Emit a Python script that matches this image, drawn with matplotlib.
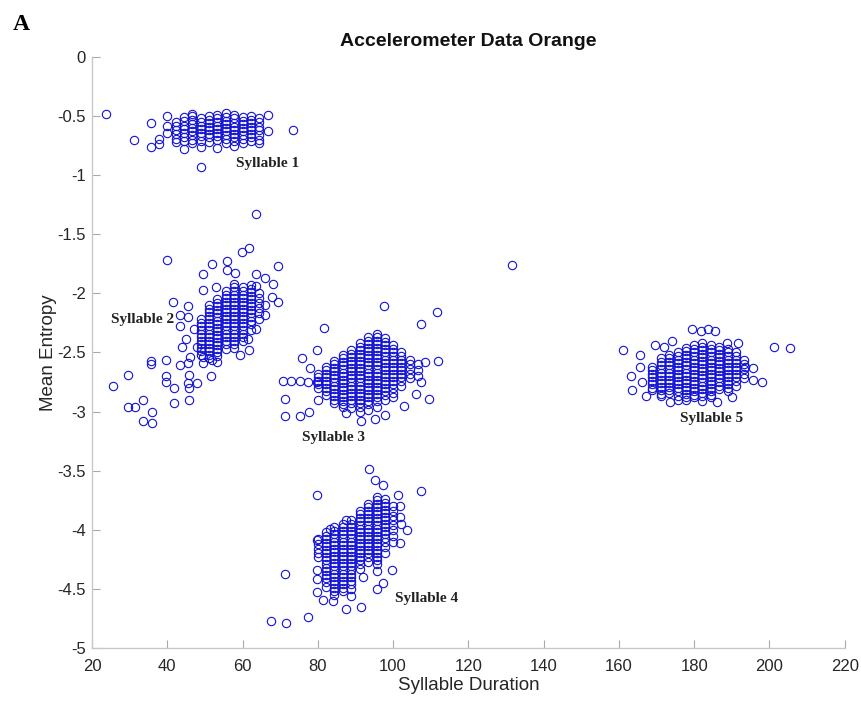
import numpy as np
import matplotlib.pyplot as plt

# Durations come in steps of ~2.22 ms, so the dense part of each cluster
# sits in vertical stacks: one x per column, entropies listed per column.

# Syllable 1
s1_cols = [42.2, 44.4, 46.7, 48.9, 51.1, 53.3, 55.6, 57.8, 60.0, 62.2, 64.4]
s1_stacks = [
    [-0.55, -0.58, -0.62, -0.65, -0.69],
    [-0.51, -0.54, -0.58, -0.61, -0.64, -0.68, -0.71],
    [-0.50, -0.53, -0.57, -0.60, -0.63, -0.66, -0.70, -0.73],
    [-0.52, -0.55, -0.58, -0.61, -0.64, -0.67, -0.71],
    [-0.50, -0.53, -0.56, -0.59, -0.62, -0.65, -0.68, -0.72],
    [-0.49, -0.52, -0.55, -0.58, -0.61, -0.64, -0.67, -0.70],
    [-0.51, -0.54, -0.57, -0.60, -0.63, -0.66, -0.69, -0.73],
    [-0.49, -0.52, -0.56, -0.59, -0.62, -0.65, -0.68, -0.71],
    [-0.51, -0.54, -0.57, -0.60, -0.63, -0.66, -0.69],
    [-0.50, -0.53, -0.56, -0.59, -0.62, -0.65, -0.68, -0.71],
    [-0.52, -0.55, -0.59, -0.62, -0.66, -0.70],
]
s1_out_dur = [23.7, 31.1, 35.6, 35.6, 37.8, 37.8, 40.0, 40.0, 40.0, 44.4, 48.9,
              48.9, 53.3, 57.8, 64.4, 66.7, 66.7, 73.3, 42.2, 46.7, 55.6, 60.0]
s1_out_ent = [-0.48, -0.70, -0.76, -0.56, -0.69, -0.74, -0.50, -0.58, -0.64, -0.78, -0.76,
              -0.93, -0.77, -0.75, -0.73, -0.49, -0.63, -0.62, -0.72, -0.48, -0.47, -0.73]

# Syllable 2
s2_cols = [48.9, 51.1, 53.3, 55.6, 57.8, 60.0, 62.2, 64.4]
s2_stacks = [
    [-2.22, -2.25, -2.28, -2.31, -2.34, -2.37, -2.40, -2.43, -2.46, -2.49, -2.52],
    [-2.10, -2.13, -2.16, -2.19, -2.22, -2.25, -2.28, -2.31, -2.34, -2.37, -2.40, -2.43,
     -2.46, -2.49, -2.52, -2.55],
    [-2.05, -2.08, -2.11, -2.14, -2.17, -2.20, -2.23, -2.26, -2.29, -2.32, -2.35, -2.38,
     -2.41, -2.44, -2.47, -2.50, -2.53],
    [-1.98, -2.01, -2.04, -2.07, -2.10, -2.13, -2.16, -2.19, -2.22, -2.25, -2.28, -2.31,
     -2.34, -2.37, -2.40, -2.43, -2.47],
    [-1.92, -1.95, -1.98, -2.01, -2.04, -2.07, -2.10, -2.13, -2.16, -2.19, -2.22, -2.25,
     -2.28, -2.31, -2.34, -2.37, -2.40, -2.43, -2.46],
    [-1.95, -1.98, -2.01, -2.04, -2.07, -2.10, -2.13, -2.16, -2.19, -2.22, -2.25, -2.28,
     -2.31, -2.34, -2.37, -2.40],
    [-1.93, -1.96, -1.99, -2.02, -2.05, -2.08, -2.11, -2.14, -2.17, -2.20, -2.23, -2.26, -2.31],
    [-2.00, -2.04, -2.08, -2.12, -2.17, -2.22],
]
s2_out_dur = [63.7, 39.8, 59.8, 61.8, 69.4, 49.4, 51.8, 55.8, 55.8, 58.0, 63.7, 65.9,
              68.2, 67.7, 69.5, 41.6, 49.4, 45.6, 45.6, 43.4, 43.4, 45.0, 43.8, 46.0,
              45.6, 43.4, 45.8, 49.6, 49.4, 51.8, 51.5, 59.3, 61.8, 61.5, 63.7, 63.7,
              65.9, 65.9, 25.7, 29.6, 29.6, 31.4, 33.6, 35.9, 33.6, 35.9, 35.7, 35.7,
              39.6, 39.6, 39.6, 41.8, 41.8, 45.8, 45.6, 45.8, 47.8, 47.8, 47.0, 53.0, 53.3]
s2_out_ent = [-1.33, -1.72, -1.65, -1.62, -1.77, -1.84, -1.75, -1.73, -1.80, -1.83, -1.84, -1.87,
              -1.92, -2.03, -2.07, -2.07, -1.97, -2.11, -2.20, -2.18, -2.28, -2.39, -2.45, -2.54,
              -2.59, -2.61, -2.69, -2.54, -2.59, -2.56, -2.70, -2.52, -2.48, -2.39, -2.30, -1.94,
              -2.10, -2.18, -2.78, -2.69, -2.96, -2.96, -2.90, -3.00, -3.08, -3.10, -2.57, -2.60,
              -2.56, -2.70, -2.75, -2.80, -2.93, -2.90, -2.76, -2.80, -2.76, -2.45, -2.30, -1.95, -2.58]

# Syllable 3
s3_cols = [80.0, 82.2, 84.4, 86.7, 88.9, 91.1, 93.3, 95.6, 97.8, 100.0, 102.2, 104.4, 106.7]
s3_stacks = [
    [-2.68, -2.71, -2.74, -2.77, -2.80],
    [-2.62, -2.65, -2.68, -2.71, -2.74, -2.77, -2.80, -2.83, -2.86],
    [-2.57, -2.60, -2.63, -2.66, -2.69, -2.72, -2.75, -2.78, -2.81, -2.84, -2.87, -2.90, -2.93],
    [-2.52, -2.55, -2.58, -2.61, -2.64, -2.67, -2.70, -2.73, -2.76, -2.79, -2.82, -2.85,
     -2.88, -2.91, -2.94, -2.96],
    [-2.48, -2.51, -2.54, -2.57, -2.60, -2.63, -2.66, -2.69, -2.72, -2.75, -2.78, -2.81,
     -2.84, -2.87, -2.90, -2.93, -2.97],
    [-2.42, -2.45, -2.48, -2.51, -2.54, -2.57, -2.60, -2.63, -2.66, -2.69, -2.72, -2.75,
     -2.78, -2.81, -2.84, -2.87, -2.90, -2.93, -2.96, -3.00],
    [-2.37, -2.40, -2.43, -2.46, -2.49, -2.52, -2.55, -2.58, -2.61, -2.64, -2.67, -2.70,
     -2.73, -2.76, -2.79, -2.82, -2.85, -2.88, -2.91, -2.94, -2.99],
    [-2.34, -2.37, -2.40, -2.43, -2.46, -2.49, -2.52, -2.55, -2.58, -2.61, -2.64, -2.67,
     -2.70, -2.73, -2.76, -2.79, -2.82, -2.85, -2.88, -2.91, -2.96],
    [-2.38, -2.41, -2.44, -2.47, -2.50, -2.53, -2.56, -2.59, -2.62, -2.65, -2.68, -2.71,
     -2.74, -2.77, -2.80, -2.83, -2.86, -2.90],
    [-2.44, -2.47, -2.50, -2.53, -2.56, -2.59, -2.62, -2.65, -2.68, -2.71, -2.74, -2.77,
     -2.80, -2.84, -2.88],
    [-2.50, -2.53, -2.56, -2.59, -2.62, -2.65, -2.68, -2.71, -2.74, -2.78],
    [-2.56, -2.60, -2.64, -2.68, -2.72],
    [-2.60, -2.65, -2.70],
]
s3_out_dur = [97.6, 111.7, 107.5, 81.6, 79.7, 75.7, 70.8, 73.0, 75.2, 77.4, 79.7, 71.3, 71.3,
              75.4, 77.6, 87.6, 91.6, 95.2, 97.8, 109.6, 111.8, 108.5, 107.5, 106.0, 78.0,
              80.0, 103.0, 131.5]
s3_out_ent = [-2.11, -2.16, -2.26, -2.29, -2.48, -2.55, -2.74, -2.74, -2.74, -2.75, -2.75, -2.89,
              -3.04, -3.04, -3.00, -3.01, -3.08, -3.06, -3.03, -2.89, -2.57, -2.58, -2.75, -2.85,
              -2.63, -2.90, -2.95, -1.76]

# Syllable 4
s4_cols = [80.0, 82.2, 84.4, 86.7, 88.9, 91.1, 93.3, 95.6, 97.8, 100.0]
s4_stacks = [
    [-4.08, -4.12, -4.16, -4.20, -4.23],
    [-4.02, -4.05, -4.08, -4.11, -4.14, -4.17, -4.20, -4.23, -4.26, -4.29, -4.32, -4.35,
     -4.38, -4.41, -4.44, -4.48],
    [-3.98, -4.01, -4.04, -4.07, -4.10, -4.13, -4.16, -4.19, -4.22, -4.25, -4.28, -4.31,
     -4.34, -4.37, -4.40, -4.43, -4.46, -4.49, -4.52, -4.55],
    [-3.95, -3.98, -4.01, -4.04, -4.07, -4.10, -4.13, -4.16, -4.19, -4.22, -4.25, -4.28,
     -4.31, -4.34, -4.37, -4.40, -4.43, -4.46, -4.49, -4.52],
    [-3.92, -3.95, -3.98, -4.01, -4.04, -4.07, -4.10, -4.13, -4.16, -4.19, -4.22, -4.25,
     -4.28, -4.31, -4.34, -4.37, -4.40, -4.43, -4.46, -4.50, -4.56],
    [-3.84, -3.87, -3.90, -3.93, -3.96, -3.99, -4.02, -4.05, -4.08, -4.11, -4.14, -4.17,
     -4.20, -4.23, -4.26, -4.29, -4.33],
    [-3.78, -3.81, -3.84, -3.87, -3.90, -3.93, -3.96, -3.99, -4.02, -4.05, -4.08, -4.11,
     -4.14, -4.17, -4.20, -4.23, -4.27],
    [-3.72, -3.75, -3.78, -3.81, -3.84, -3.87, -3.90, -3.93, -3.96, -3.99, -4.02, -4.05,
     -4.08, -4.11, -4.14, -4.17, -4.20, -4.23, -4.26, -4.29, -4.35],
    [-3.74, -3.77, -3.80, -3.83, -3.86, -3.89, -3.92, -3.95, -3.98, -4.01, -4.04, -4.07,
     -4.10, -4.15, -4.20],
    [-3.80, -3.84, -3.88, -3.92, -3.96, -4.00, -4.05, -4.10],
]
s4_out_dur = [93.7, 95.2, 97.4, 107.4, 79.7, 101.4, 71.3, 67.5, 71.5, 77.5, 87.6, 91.6, 79.7,
              79.7, 79.7, 79.7, 81.4, 99.6, 97.4, 95.6, 103.6, 101.8, 101.8, 101.8, 87.6, 83.2,
              102.0, 84.0, 92.0]
s4_out_ent = [-3.49, -3.58, -3.62, -3.67, -3.71, -3.71, -4.37, -4.77, -4.79, -4.74, -4.67, -4.65,
              -4.09, -4.34, -4.42, -4.53, -4.59, -4.34, -4.45, -4.50, -4.00, -4.11, -3.80, -3.89,
              -3.92, -3.99, -3.95, -4.60, -4.40]

# Syllable 5
s5_cols = [168.9, 171.1, 173.3, 175.6, 177.8, 180.0, 182.2, 184.4, 186.7, 188.9, 191.1, 193.3]
s5_stacks = [
    [-2.62, -2.65, -2.68, -2.71, -2.74, -2.77, -2.80, -2.82],
    [-2.55, -2.58, -2.61, -2.64, -2.67, -2.70, -2.73, -2.76, -2.79, -2.82, -2.85, -2.87],
    [-2.52, -2.55, -2.58, -2.61, -2.64, -2.67, -2.70, -2.73, -2.76, -2.79, -2.82, -2.84],
    [-2.50, -2.53, -2.56, -2.59, -2.62, -2.65, -2.68, -2.71, -2.74, -2.77, -2.80, -2.83, -2.87],
    [-2.46, -2.49, -2.52, -2.55, -2.58, -2.61, -2.64, -2.67, -2.70, -2.73, -2.76, -2.79,
     -2.82, -2.85, -2.88, -2.90],
    [-2.44, -2.47, -2.50, -2.53, -2.56, -2.59, -2.62, -2.65, -2.68, -2.71, -2.74, -2.77,
     -2.80, -2.83, -2.86, -2.88],
    [-2.42, -2.45, -2.48, -2.51, -2.54, -2.57, -2.60, -2.63, -2.66, -2.69, -2.72, -2.75,
     -2.78, -2.81, -2.84, -2.87, -2.91],
    [-2.44, -2.47, -2.50, -2.53, -2.56, -2.59, -2.62, -2.65, -2.68, -2.71, -2.74, -2.77,
     -2.80, -2.83, -2.86, -2.88],
    [-2.45, -2.48, -2.51, -2.54, -2.57, -2.60, -2.63, -2.66, -2.69, -2.72, -2.75, -2.78, -2.81],
    [-2.47, -2.50, -2.53, -2.56, -2.59, -2.62, -2.65, -2.68, -2.71, -2.74, -2.77, -2.80, -2.83],
    [-2.50, -2.53, -2.56, -2.59, -2.62, -2.65, -2.68, -2.71, -2.74, -2.78],
    [-2.56, -2.60, -2.64, -2.68, -2.72],
]
s5_out_dur = [161.1, 165.5, 169.5, 201.1, 205.4, 179.3, 181.9, 183.7, 185.5, 163.3, 163.6, 167.3,
              173.5, 175.7, 165.5, 166.0, 191.6, 188.6, 195.6, 195.6, 193.4, 174.0, 172.0, 190.0,
              186.0, 198.0]
s5_out_ent = [-2.48, -2.52, -2.44, -2.45, -2.46, -2.30, -2.32, -2.30, -2.32, -2.70, -2.82, -2.87,
              -2.92, -2.90, -2.62, -2.75, -2.42, -2.42, -2.73, -2.63, -2.62, -2.40, -2.45, -2.88,
              -2.92, -2.75]

labels = ['Syllable 1', 'Syllable 2', 'Syllable 3', 'Syllable 4', 'Syllable 5']
label_pos = [(58.2, -0.90), (25.0, -2.22), (75.7, -3.22), (100.5, -4.58), (176.2, -3.06)]

x_ticks = np.arange(20, 221, 20)
y_ticks = np.arange(-5, 0.01, 0.5)

syllables = [
    (s1_cols, s1_stacks, s1_out_dur, s1_out_ent),
    (s2_cols, s2_stacks, s2_out_dur, s2_out_ent),
    (s3_cols, s3_stacks, s3_out_dur, s3_out_ent),
    (s4_cols, s4_stacks, s4_out_dur, s4_out_ent),
    (s5_cols, s5_stacks, s5_out_dur, s5_out_ent),
]

fig = plt.figure(figsize=(8.62, 7.06), dpi=100)
ax = fig.add_axes([0.1067, 0.0822, 0.8733, 0.8371])

for cols, stacks, out_dur, out_ent in syllables:
    dur = [c for c, st in zip(cols, stacks) for _ in st] + out_dur
    ent = [e for st in stacks for e in st] + out_ent
    ax.plot(dur, ent, 'o', ms=6, mfc='none', mec='#1212d4', mew=0.8)

for txt, (x, y) in zip(labels, label_pos):
    ax.text(x, y, txt, family='Liberation Serif', weight='bold', fontsize=11,
            ha='left', va='center', color='#222222')

ax.set_xlim(20, 220)
ax.set_ylim(-5, 0)
ax.set_xticks(x_ticks)
ax.set_yticks(y_ticks)
ax.set_yticklabels(['%g' % v for v in y_ticks])
for s in ['top', 'right']:
    ax.spines[s].set_visible(False)
for s in ['left', 'bottom']:
    ax.spines[s].set_color('#c8c8c8')
    ax.spines[s].set_linewidth(1.0)
ax.tick_params(direction='in', length=6, width=0.8, color='#aaaaaa',
               labelsize=12, labelcolor='#262626')
ax.tick_params(axis='x', pad=8)
ax.tick_params(axis='y', pad=4.5)
for lab in ax.get_xticklabels() + ax.get_yticklabels():
    lab.set_family('Liberation Sans')

ax.set_xlabel('Syllable Duration', family='Liberation Sans', fontsize=13.5, color='#262626',
              labelpad=2)
ax.set_ylabel('Mean Entropy', family='Liberation Sans', fontsize=13.5, color='#262626',
              labelpad=0)
ax.set_title('Accelerometer Data Orange', family='Liberation Sans', weight='bold',
             fontsize=14, color='#111111', pad=8)
fig.text(0.015, 0.965, 'A', family='Liberation Serif', weight='bold', fontsize=17,
         ha='left', va='center')

fig.savefig('out.png', dpi=100, facecolor='white')
